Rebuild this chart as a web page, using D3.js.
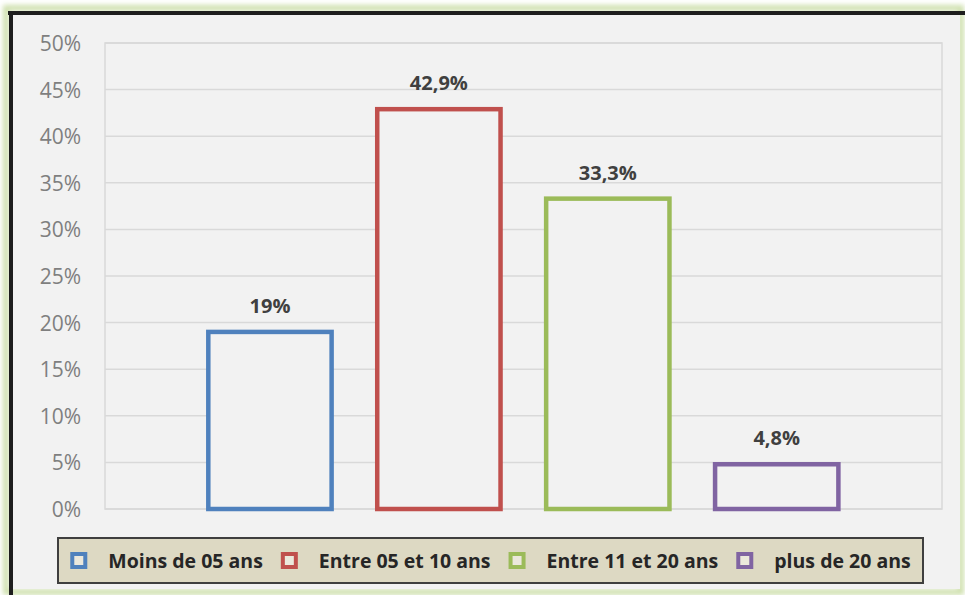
<!DOCTYPE html>
<html><head><meta charset="utf-8">
<script src="https://cdn.jsdelivr.net/npm/d3@7"></script>
<style>html,body{margin:0;padding:0;background:#ffffff;}svg{display:block;}</style>
</head><body>
<script>
// Data
const seriesNames = ["Moins de 05 ans", "Entre 05 et 10 ans", "Entre 11 et 20 ans", "plus de 20 ans"];
const seriesValues = [19, 42.9, 33.3, 4.8];
const valueLabels = ["19%", "42,9%", "33,3%", "4,8%"];
const seriesColors = ["#4f81bd", "#c0504d", "#9bbb59", "#8064a2"];
const yTicks = [0, 5, 10, 15, 20, 25, 30, 35, 40, 45, 50];

const W = 965, H = 595;
const svg = d3.select("body").append("svg").attr("width", W).attr("height", H);
const defs = svg.append("defs");
const blur = defs.append("filter").attr("id", "glow").attr("x", "-5%").attr("y", "-5%").attr("width", "110%").attr("height", "110%");
blur.append("feGaussianBlur").attr("stdDeviation", 2.5);

// Outer glow and frame
svg.append("rect").attr("x", 6).attr("y", 8).attr("width", 955).attr("height", 584)
  .attr("fill", "none").attr("stroke", "#cfe0ad").attr("stroke-width", 6).attr("filter", "url(#glow)");
svg.append("rect").attr("x", 11).attr("y", 13).attr("width", 949).attr("height", 576)
  .attr("fill", "#f2f2f2");
svg.append("line").attr("x1", 8).attr("x2", 965).attr("y1", 13).attr("y2", 13)
  .attr("stroke", "#1e1e1e").attr("stroke-width", 4);
svg.append("line").attr("x1", 11).attr("x2", 11).attr("y1", 11).attr("y2", 595)
  .attr("stroke", "#1e1e1e").attr("stroke-width", 4);

// Plot area
const plot = {left: 105, right: 942, top: 43, bottom: 509};
const y = d3.scaleLinear().domain([0, 50]).range([plot.bottom, plot.top]);
const x = d3.scaleBand().domain(seriesNames).range([185.5, 861.2]).paddingInner(0.27).paddingOuter(0.135);

const g = svg.append("g");
g.selectAll("line.grid").data(yTicks).join("line").attr("class", "grid")
  .attr("x1", plot.left).attr("x2", plot.right)
  .attr("y1", d => y(d)).attr("y2", d => y(d))
  .attr("stroke", "#d9d9d9").attr("stroke-width", 1.5);
g.append("rect").attr("x", plot.left).attr("y", plot.top)
  .attr("width", plot.right - plot.left).attr("height", plot.bottom - plot.top)
  .attr("fill", "none").attr("stroke", "#d9d9d9").attr("stroke-width", 1.5);

// Y axis via d3 axis
const yAxis = d3.axisLeft(y).tickValues(yTicks).tickFormat(d => d + "%").tickSize(0).tickPadding(0);
const ax = svg.append("g").attr("transform", `translate(81,0)`).call(yAxis);
ax.select(".domain").remove();
ax.selectAll("text").attr("fill", "#7f7f7f").attr("font-family", "'Open Sans', sans-serif")
  .attr("font-size", 21).attr("dy", "0.36em");

// Bars
const bars = seriesNames.map((n, i) => ({name: n, value: seriesValues[i], label: valueLabels[i], color: seriesColors[i]}));
g.selectAll("rect.bar").data(bars).join("rect").attr("class", "bar")
  .attr("x", d => x(d.name)).attr("width", x.bandwidth())
  .attr("y", d => y(d.value)).attr("height", d => y(0) - y(d.value))
  .attr("fill", "#f2f2f2").attr("stroke", d => d.color).attr("stroke-width", 4.5);
g.selectAll("text.lbl").data(bars).join("text").attr("class", "lbl")
  .attr("x", d => x(d.name) + x.bandwidth() / 2).attr("y", d => y(d.value) - 19)
  .attr("text-anchor", "middle").attr("font-family", "'Open Sans', sans-serif")
  .attr("font-weight", "bold").attr("font-size", 20).attr("fill", "#404040")
  .text(d => d.label);

// Legend
const leg = {x: 58, y: 538, w: 865, h: 45};
svg.append("rect").attr("x", leg.x).attr("y", leg.y).attr("width", leg.w).attr("height", leg.h)
  .attr("fill", "#ddd9c3").attr("stroke", "#3f3f3f").attr("stroke-width", 2);
const lg = svg.append("g");
const items = lg.selectAll("g").data(bars).join("g");
items.append("text").attr("font-family", "'Open Sans', sans-serif").attr("font-weight", "bold")
  .attr("font-size", 19.5).attr("fill", "#262626").attr("y", leg.y + leg.h / 2).attr("dy", "0.36em")
  .text(d => d.name);
const widths = [];
items.each(function(){ widths.push(d3.select(this).select("text").node().getComputedTextLength()); });
const mk = 17, mgap = 21, igap = 18;
const total = d3.sum(widths) + bars.length * (mk + mgap) + (bars.length - 1) * igap;
let cx = leg.x + (leg.w - total) / 2;
items.each(function(d, i){
  const s = d3.select(this);
  s.insert("rect", "text").attr("x", cx + 2).attr("y", leg.y + leg.h / 2 - 6.5).attr("width", 13).attr("height", 13)
    .attr("fill", "#ebe8dc").attr("stroke", d.color).attr("stroke-width", 4);
  s.select("text").attr("x", cx + mk + mgap);
  cx += mk + mgap + widths[i] + igap;
});
</script>
</body></html>
